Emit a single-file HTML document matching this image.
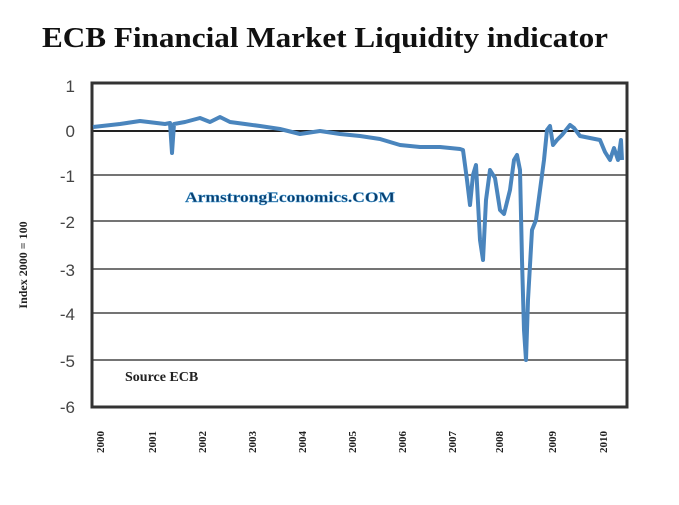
<!DOCTYPE html>
<html><head><style>
body{margin:0;background:#fff;}
</style></head><body>
<svg width="679" height="500" xmlns="http://www.w3.org/2000/svg">
<rect width="679" height="500" fill="#fff"/>
<text x="42" y="47" font-family="Liberation Serif, serif" font-weight="bold" font-size="28" fill="#111" textLength="566" lengthAdjust="spacingAndGlyphs">ECB Financial Market Liquidity indicator</text>
<g stroke="#222" stroke-width="1.3">
<line x1="92" y1="175" x2="627" y2="175"/>
<line x1="92" y1="221" x2="627" y2="221"/>
<line x1="92" y1="269" x2="627" y2="269"/>
<line x1="92" y1="313" x2="627" y2="313"/>
<line x1="92" y1="360" x2="627" y2="360"/>
</g>
<line x1="92" y1="131" x2="627" y2="131" stroke="#222" stroke-width="2"/>
<rect x="92" y="83" width="535" height="324" fill="none" stroke="#333" stroke-width="3"/>
<g font-family="Liberation Sans, sans-serif" font-size="17" fill="#444" text-anchor="end">
<text x="75" y="92">1</text><text x="75" y="137">0</text><text x="75" y="182">-1</text>
<text x="75" y="228">-2</text><text x="75" y="276">-3</text><text x="75" y="320">-4</text>
<text x="75" y="367">-5</text><text x="75" y="413">-6</text>
</g>
<text transform="translate(27,265) rotate(-90)" text-anchor="middle" font-family="Liberation Serif, serif" font-weight="bold" font-size="12" fill="#222">Index 2000 = 100</text>
<g font-family="Liberation Serif, serif" font-weight="bold" font-size="11" fill="#222" text-anchor="middle">
<text transform="translate(104,442) rotate(-90)">2000</text>
<text transform="translate(156,442) rotate(-90)">2001</text>
<text transform="translate(206,442) rotate(-90)">2002</text>
<text transform="translate(256,442) rotate(-90)">2003</text>
<text transform="translate(306,442) rotate(-90)">2004</text>
<text transform="translate(356,442) rotate(-90)">2005</text>
<text transform="translate(406,442) rotate(-90)">2006</text>
<text transform="translate(456,442) rotate(-90)">2007</text>
<text transform="translate(503,442) rotate(-90)">2008</text>
<text transform="translate(556,442) rotate(-90)">2009</text>
<text transform="translate(607,442) rotate(-90)">2010</text>
</g>
<polyline fill="none" stroke="#4a85bd" stroke-width="4" stroke-linejoin="round" points="93,127 120,124 140,121 165,124 170,123 172,153 174,124 185,122 200,118 210,122 220,117 230,122 245,124 260,126 280,129 300,134 320,131 340,134 360,136 380,139 400,145 420,147 440,147 460,149 463,150 467,180 470,205 473,175 476,165 480,240 483,260 486,200 490,170 495,178 500,210 504,214 510,190 514,160 517,155 520,170 522,260 524,330 526,360 528,300 532,230 536,220 540,190 544,160 547,130 550,126 553,145 557,140 562,135 570,125 574,128 580,136 590,138 600,140 605,152 610,160 614,148 618,160 621,140 622,160"/>
<text x="185" y="202" font-family="Liberation Serif, serif" font-weight="bold" font-size="15" fill="#0b3d6b" stroke="#4a9fd8" stroke-width="0.4" textLength="210" lengthAdjust="spacingAndGlyphs">ArmstrongEconomics.COM</text>
<text x="125" y="381" font-family="Liberation Serif, serif" font-weight="bold" font-size="14" fill="#222">Source ECB</text>
</svg>
</body></html>
